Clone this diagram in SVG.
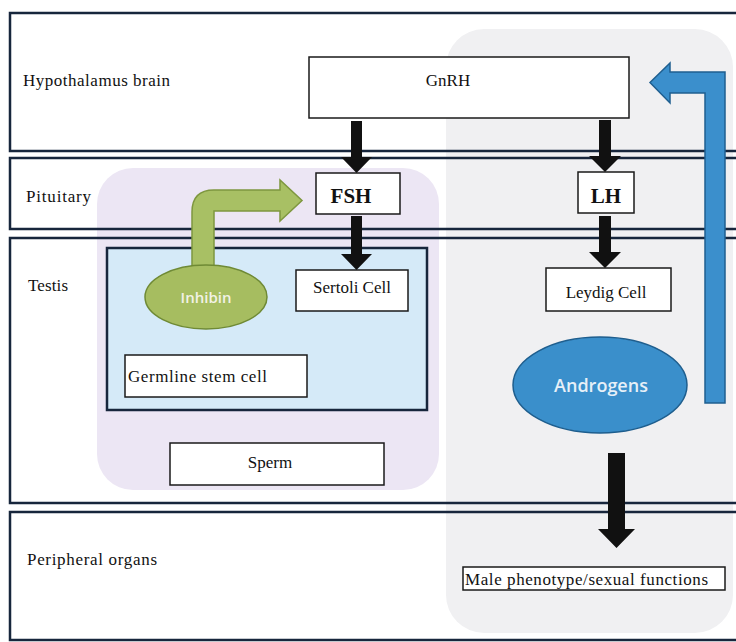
<svg xmlns="http://www.w3.org/2000/svg" width="736" height="642" viewBox="0 0 736 642">
<style>
.band{fill:#ffffff;stroke:none}
.bandline{fill:none;stroke:#17263c;stroke-width:2.5}
.box{fill:#ffffff;stroke:#1a1a1a;stroke-width:1.5}
.lbl{font-family:"Liberation Serif","DejaVu Serif",serif;font-size:17px;fill:#111}
.boxt{font-family:"Liberation Serif","DejaVu Serif",serif;font-size:17px;fill:#111}
.bold{font-family:"Liberation Serif","DejaVu Serif",serif;font-size:21px;font-weight:bold;fill:#111}
.sans{font-family:"Open Sans","Liberation Sans",sans-serif;font-weight:600}
.blk{fill:#111;stroke:none}
</style>
<rect width="736" height="642" fill="#ffffff"/>
<g id="bands">
<rect class="band" x="10" y="13" width="740" height="138"/>
<rect class="band" x="10" y="158" width="740" height="71"/>
<rect class="band" x="10" y="238" width="740" height="265"/>
<rect class="band" x="10" y="512" width="740" height="128"/>
</g>
<rect id="region-leydig" x="446" y="29" width="287" height="604" rx="38" fill="#f0f0f2"/>
<rect id="region-sertoli" x="97" y="168" width="342" height="322" rx="36" fill="#ece6f4"/>
<g id="band-lines">
<rect class="bandline" x="10" y="13" width="740" height="138"/>
<rect class="bandline" x="10" y="158" width="740" height="71"/>
<rect class="bandline" x="10" y="238" width="740" height="265"/>
<rect class="bandline" x="10" y="512" width="740" height="128"/>
</g>
<g id="band-labels">
<text class="lbl" x="23" y="86" textLength="147" lengthAdjust="spacing">Hypothalamus brain</text>
<text class="lbl" x="26" y="202" textLength="65" lengthAdjust="spacing">Pituitary</text>
<text class="lbl" x="28" y="291" textLength="40" lengthAdjust="spacing">Testis</text>
<text class="lbl" x="27" y="565" textLength="130" lengthAdjust="spacing">Peripheral organs</text>
</g>
<g id="seminiferous">
<rect x="107" y="248" width="320" height="162" fill="#d5eaf8" stroke="#17263c" stroke-width="2.5"/>
</g>
<g id="gnrh">
<rect class="box" x="309" y="57" width="320" height="61"/>
<text class="boxt" x="448" y="86" text-anchor="middle">GnRH</text>
</g>
<g id="fsh">
<rect class="box" x="316" y="173" width="84" height="41"/>
<text class="bold" x="351" y="203" text-anchor="middle">FSH</text>
</g>
<g id="lh">
<rect class="box" x="578" y="172" width="56" height="41"/>
<text class="bold" x="606" y="203" text-anchor="middle">LH</text>
</g>
<g id="sertoli">
<rect class="box" x="296" y="270" width="112" height="41"/>
<text class="boxt" x="352" y="293" text-anchor="middle">Sertoli Cell</text>
</g>
<g id="leydig">
<rect class="box" x="546" y="268" width="125" height="43"/>
<text class="boxt" x="606" y="298" text-anchor="middle">Leydig Cell</text>
</g>
<g id="germline">
<rect class="box" x="125" y="355" width="182" height="42"/>
<text class="boxt" x="128" y="382" textLength="139" lengthAdjust="spacing">Germline stem cell</text>
</g>
<g id="sperm">
<rect class="box" x="170" y="443" width="214" height="42"/>
<text class="boxt" x="270" y="468" text-anchor="middle">Sperm</text>
</g>
<g id="male">
<rect class="box" x="463" y="567" width="262" height="23"/>
<text class="boxt" x="465" y="585" textLength="243" lengthAdjust="spacing">Male phenotype/sexual functions</text>
</g>
<g id="connectors">
<path d="M192,268 L192,212 Q192,190 214,190 L280,190 L280,180 L302,200.5 L280,221 L280,211 L214,211 L214,268 Z" fill="#a8c064" stroke="#7e973f" stroke-width="1.5"/>
<path d="M725,403 L725,72 L670,72 L670,63 L650,82.5 L670,103 L670,93 L705,93 L705,403 Z" fill="#3b8fcc" stroke="#1f5f90" stroke-width="1.5"/>
<path class="blk" d="M351,121 L362,121 L362,157 L372,157 L356.5,173 L341,157 L351,157 Z"/>
<path class="blk" d="M351,216 L362,216 L362,254 L372,254 L356.5,270 L341,254 L351,254 Z"/>
<path class="blk" d="M599,120 L611,120 L611,156 L621,156 L605,172 L589,156 L599,156 Z"/>
<path class="blk" d="M599,216 L611,216 L611,252 L621,252 L605,268 L589,252 L599,252 Z"/>
<path class="blk" d="M608,453 L625,453 L625,529 L635,529 L616.5,548 L598,529 L608,529 Z"/>
</g>
<g id="inhibin">
<ellipse cx="206" cy="297" rx="61" ry="32" fill="#a6bd60" stroke="#6f8a35" stroke-width="1.5"/>
<text class="sans" x="206" y="303" text-anchor="middle" font-size="15" fill="#f2f2e6">Inhibin</text>
</g>
<g id="androgens">
<ellipse cx="600" cy="385" rx="87" ry="48" fill="#3a8fcb" stroke="#1e5e8e" stroke-width="1.5"/>
<text class="sans" x="601" y="392" text-anchor="middle" font-size="18" fill="#e6f0f8">Androgens</text>
</g>
</svg>
